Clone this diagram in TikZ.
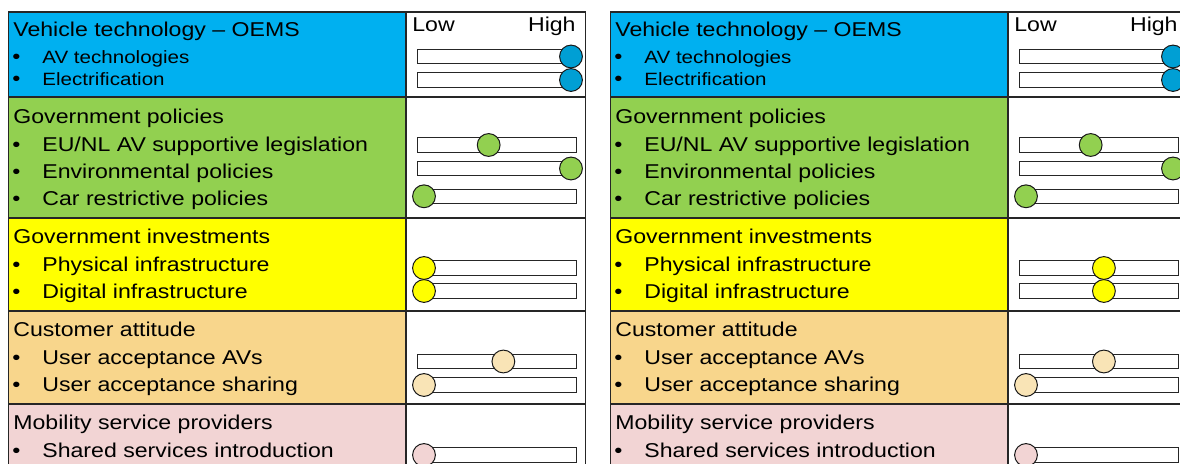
\documentclass[tikz,border=0pt]{standalone}
\usepackage{fontspec}
\setmainfont{Liberation Sans}[FakeStretch=1.155]
\definecolor{vtblue}{HTML}{00B0F0}
\definecolor{vtknob}{HTML}{009FD4}
\definecolor{gpgreen}{HTML}{92D050}
\definecolor{giyellow}{HTML}{FFFF00}
\definecolor{caorange}{HTML}{F8D68C}
\definecolor{caknob}{HTML}{F9E4B6}
\definecolor{mspink}{HTML}{F2D4D4}
\tikzset{
  cell/.style={draw=black!85,line width=0.6pt},
  hdr/.style={anchor=base west,inner sep=0pt,font=\fontsize{10}{12}\selectfont},
  itm/.style={anchor=base west,inner sep=0pt,font=\fontsize{10}{12}\selectfont},
  smallitm/.style={anchor=base west,inner sep=0pt,font=\fontsize{8.9}{10}\selectfont},
  bul/.style={anchor=base west,inner sep=0pt,font=\fontsize{10}{12}\selectfont},
  track/.style={draw=black!85,fill=white,line width=0.5pt,inner sep=0pt,
    minimum width=79.5pt,minimum height=7.2pt},
  knob/.style={circle,draw=black!90,line width=0.5pt,inner sep=0pt,minimum size=11.4pt}
}
\begin{document}
\begin{tikzpicture}[x=0.5pt,y=-0.5pt]
\useasboundingbox (0,0) rectangle (1180,464);
\clip (0,0) rectangle (1180,464);
\foreach \p/\dx/\gA/\yA/\oA in {L/0/0.44/0/0.54, R/602/0.44/0.53/0.53}{
\begin{scope}[shift={(\dx,0)}]
% rows: coloured column and slider column
\foreach \t/\b/\c in {12/97/vtblue,97/218/gpgreen,218/311/giyellow,311/404/caorange,404/520/mspink}{
  \draw[cell,fill=\c] (8.7,\t) rectangle (406,\b);
  \draw[cell,fill=white] (406,\t) rectangle (585.7,\b);
}
\path
(412,32)  node[hdr] (low\p) {Low}
(576,32)  node[hdr,anchor=base east] (high\p) {High}
(13,37)   node[hdr] (vt\p) {Vehicle technology -- OEMS}
(12,63.7) node[bul] (vtb\p1) {\textbullet}
(42,63.7) node[smallitm] (vt\p1) {AV technologies}
(12,86)   node[bul] (vtb\p2) {\textbullet}
(42,86)   node[smallitm] (vt\p2) {Electrification}
(13,124)  node[hdr] (gp\p) {Government policies}
(12,151.7) node[bul] (gpb\p1) {\textbullet}
(42,151.7) node[itm] (gp\p1) {EU/NL AV supportive legislation}
(12,179)  node[bul] (gpb\p2) {\textbullet}
(42,179)  node[itm] (gp\p2) {Environmental policies}
(12,206)  node[bul] (gpb\p3) {\textbullet}
(42,206)  node[itm] (gp\p3) {Car restrictive policies}
(13,244)  node[hdr] (gi\p) {Government investments}
(12,272)  node[bul] (gib\p1) {\textbullet}
(42,272)  node[itm] (gi\p1) {Physical infrastructure}
(12,299)  node[bul] (gib\p2) {\textbullet}
(42,299)  node[itm] (gi\p2) {Digital infrastructure}
(13,337)  node[hdr] (ca\p) {Customer attitude}
(12,365)  node[bul] (cab\p1) {\textbullet}
(42,365)  node[itm] (ca\p1) {User acceptance AVs}
(12,392)  node[bul] (cab\p2) {\textbullet}
(42,392)  node[itm] (ca\p2) {User acceptance sharing}
(13,430)  node[hdr] (ms\p) {Mobility service providers}
(12,458)  node[bul] (msb\p1) {\textbullet}
(42,458)  node[itm] (ms\p1) {Shared services introduction};
% sliders
\foreach \n/\y/\v/\c in {vt1/56.5/1/vtknob, vt2/80/1/vtknob,
    gp1/145/\gA/gpgreen, gp2/168.5/1/gpgreen, gp3/196.3/0/gpgreen,
    gi1/268/\yA/giyellow, gi2/291/\yA/giyellow,
    ca1/361.5/\oA/caknob, ca2/385/0/caknob, ms1/455/0/mspink}{
  \node[track] (tr\p\n) at (496.5,\y) {};
  \node[knob,fill=\c] (kn\p\n) at ({424+147*\v},\y) {};
}
\end{scope}
}
\end{tikzpicture}
\end{document}
